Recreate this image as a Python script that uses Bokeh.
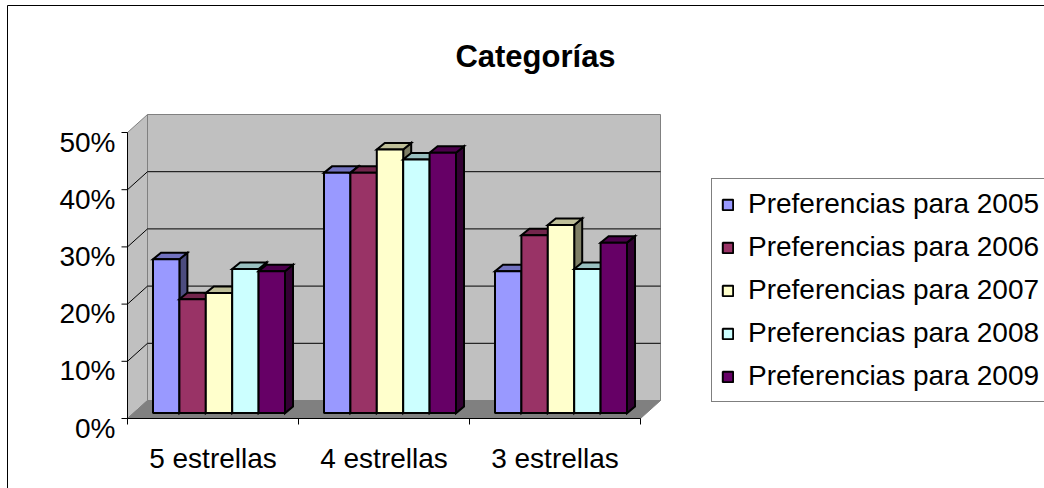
from bokeh.plotting import figure
from bokeh.models import Range1d, ColumnDataSource, Legend, LegendItem
from bokeh.core.properties import value
from bokeh.embed import file_html
from bokeh.resources import INLINE

# ---------------- data ----------------
categories = ["5 estrellas", "4 estrellas", "3 estrellas"]
series_names = ["Preferencias para 2005", "Preferencias para 2006",
                "Preferencias para 2007", "Preferencias para 2008",
                "Preferencias para 2009"]
pref_2005 = [0.269, 0.420, 0.248]
pref_2006 = [0.199, 0.420, 0.311]
pref_2007 = [0.210, 0.461, 0.329]
pref_2008 = [0.252, 0.4435, 0.252]
pref_2009 = [0.248, 0.455, 0.298]
series_values = [pref_2005, pref_2006, pref_2007, pref_2008, pref_2009]
y_ticks = [0.0, 0.1, 0.2, 0.3, 0.4, 0.5]
y_tick_labels = ["0%", "10%", "20%", "30%", "40%", "50%"]
title_text = "Categorías"

# ---------------- styles ----------------
colors = ["#9999FF", "#993366", "#FFFFCC", "#CCFFFF", "#660066"]
FONT = "Liberation Sans"

def shade(hex_color, f):
    r, g, b = (int(hex_color[i:i + 2], 16) for i in (1, 3, 5))
    return "#%02x%02x%02x" % (int(r * f), int(g * f), int(b * f))

# ---------------- layout (pixel geometry -> data units) ----------------
W, H = 1044, 488
ORG_X, ORG_Y = 127, 418      # front origin of the 3D box (px)
CAT_PX = 171                 # px per category
UNIT_PX = 572                # px per 100 %

def sx(px):
    return (px - ORG_X) / CAT_PX

def sy(py):
    return (ORG_Y - py) / UNIT_PX

DX, DY = 20 / CAT_PX, 18 / UNIT_PX          # wall depth
BAR_F = 0.3                                   # bar depth position
BDX, BDY = 8 / CAT_PX, 6.5 / UNIT_PX          # bar depth
BAR_W = 26.4 / CAT_PX
N_CAT = len(categories)
N_SER = len(series_values)
YMAX = y_ticks[-1]

p = figure(width=W, height=H, output_backend="svg", toolbar_location=None,
           x_range=Range1d(sx(0), sx(W)), y_range=Range1d(sy(H), sy(0)),
           x_axis_type=None, y_axis_type=None, min_border=0,
           outline_line_color=None, background_fill_color="white",
           border_fill_color="white")
p.grid.visible = False

# outer chart border
p.quad(left=[sx(7)], right=[sx(W + 20)], top=[sy(5)], bottom=[sy(H + 20)],
       fill_color=None, line_color="black", line_width=1)

# walls and floor
wall_fill, wall_line = "#C0C0C0", "#808080"
p.patch([0, DX, DX, 0], [0, DY, YMAX + DY, YMAX], fill_color=wall_fill,
        line_color=wall_line, line_width=1)
p.patch([DX, N_CAT + DX, N_CAT + DX, DX], [DY, DY, YMAX + DY, YMAX + DY],
        fill_color=wall_fill, line_color=wall_line, line_width=1)
p.patch([0, N_CAT, N_CAT + DX, DX], [0, 0, DY, DY], fill_color="#808080",
        line_color="#808080", line_width=1)

# gridlines on back and side walls
grid_vals = [v for v in y_ticks if 0 < v < YMAX]
p.multi_line(xs=[[0, DX, N_CAT + DX] for v in grid_vals],
             ys=[[v, v + DY, v + DY] for v in grid_vals],
             line_color="black", line_width=1)

# bars
legend_items = []
for s, (vals, col) in enumerate(zip(series_values, colors)):
    lefts, rights, bottoms, tops = [], [], [], []
    top_xs, top_ys, side_xs, side_ys = [], [], [], []
    for c, v in enumerate(vals):
        x0 = c + 0.5 - N_SER * BAR_W / 2 + s * BAR_W + BAR_F * DX
        x1 = x0 + BAR_W
        y0 = BAR_F * DY
        y1 = v + BAR_F * DY
        lefts.append(x0); rights.append(x1); bottoms.append(y0); tops.append(y1)
        top_xs.append([x0, x1, x1 + BDX, x0 + BDX])
        top_ys.append([y1, y1, y1 + BDY, y1 + BDY])
        side_xs.append([x1, x1 + BDX, x1 + BDX, x1])
        side_ys.append([y0, y0 + BDY, y1 + BDY, y1])
    p.patches(side_xs, side_ys, fill_color=shade(col, 0.5), line_color="black",
              line_width=2, line_join="miter")
    p.patches(top_xs, top_ys, fill_color=shade(col, 0.75), line_color="black",
              line_width=2, line_join="miter")
    src = ColumnDataSource(dict(left=lefts, right=rights, bottom=bottoms, top=tops))
    r = p.quad(left="left", right="right", bottom="bottom", top="top", source=src,
               fill_color=col, line_color="black", line_width=2)
    legend_items.append(LegendItem(label=series_names[s], renderers=[r]))

# axes
TICK = 6
p.line([0, 0], [0, YMAX], line_color="black", line_width=1)
p.line([0, N_CAT], [0, 0], line_color="black", line_width=1)
p.segment(x0=[sx(ORG_X - TICK)] * len(y_ticks), x1=[0] * len(y_ticks),
          y0=y_ticks, y1=y_ticks, line_color="black", line_width=1)
p.segment(x0=list(range(N_CAT + 1)), x1=list(range(N_CAT + 1)),
          y0=[0] * (N_CAT + 1), y1=[sy(ORG_Y + TICK)] * (N_CAT + 1),
          line_color="black", line_width=1)

# tick labels
p.text(x=[sx(ORG_X - 12)] * len(y_ticks), y=[v - 9.5 / UNIT_PX for v in y_ticks],
       text=y_tick_labels, text_font=value(FONT), text_font_size="28px",
       text_align="right", text_baseline="alphabetic", text_color="black")
p.text(x=[c + 0.5 for c in range(N_CAT)], y=[sy(458)] * N_CAT, text=categories,
       text_font=value(FONT), text_font_size="28px", text_align="center",
       text_baseline="alphabetic", text_color="black")

# title
p.text(x=[sx(535)], y=[sy(56)], text=[title_text], text_font=value(FONT),
       text_font_size="31px", text_font_style="bold", text_align="center",
       text_baseline="alphabetic", text_color="black")

legend = Legend(items=legend_items, location=(711, 86),
                label_text_font=FONT, label_text_font_size="28px",
                label_text_color="black",
                glyph_width=13, glyph_height=13, label_standoff=14,
                padding=9, spacing=11, label_height=30, label_width=310,
                margin=0,
                border_line_color="black", border_line_width=1,
                background_fill_color="white", background_fill_alpha=1.0)
p.add_layout(legend)

open("out.html", "w").write(file_html(p, INLINE))
